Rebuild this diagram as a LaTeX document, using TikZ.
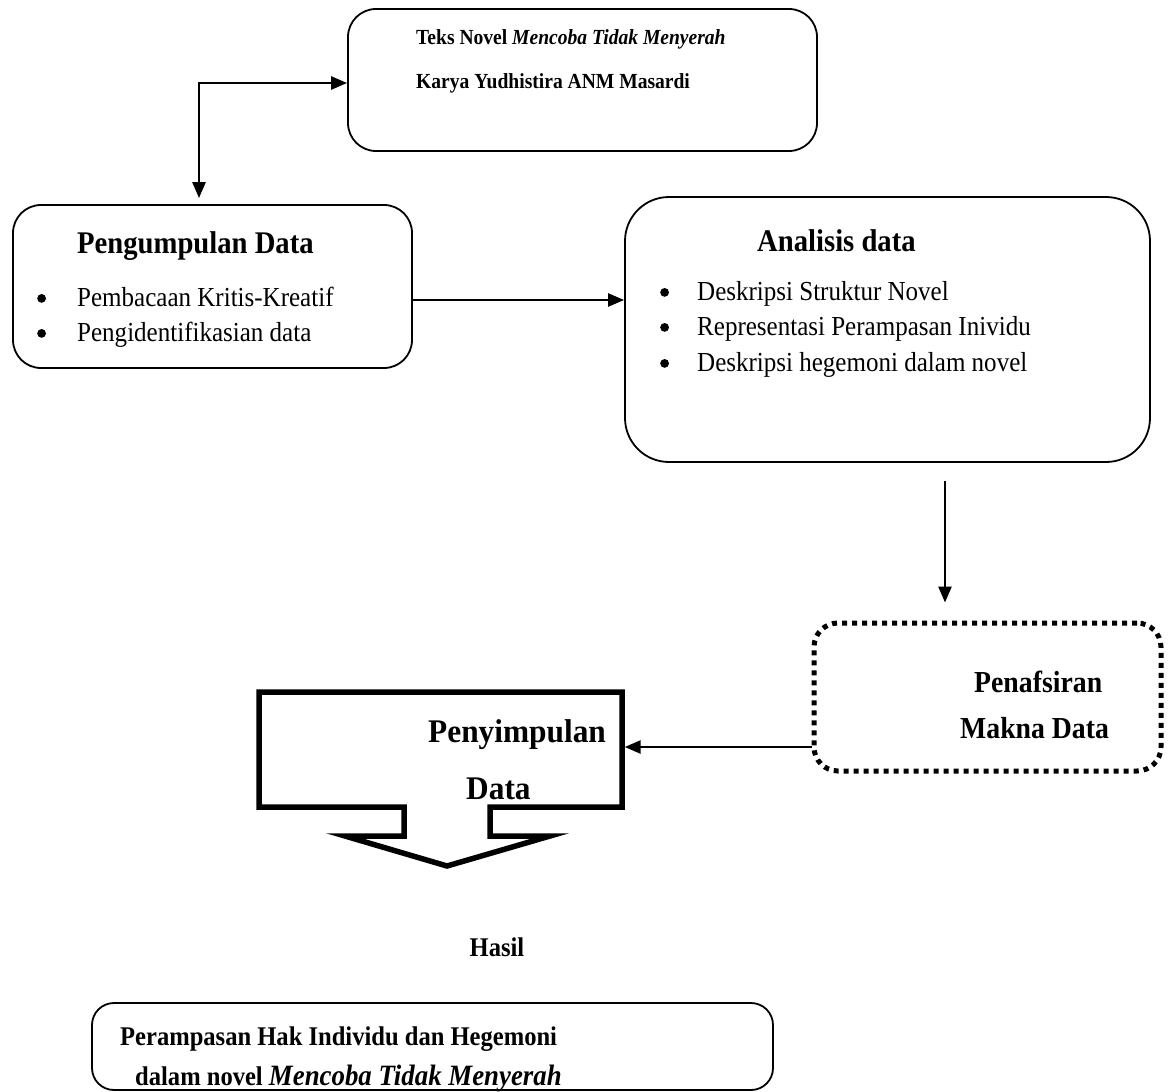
\documentclass[tikz,border=0pt]{standalone}
\usepackage{fontspec}
\setmainfont{Liberation Serif}[FakeStretch=0.91]
\newfontfamily\plainserif{Liberation Serif}[FakeStretch=0.95]
\usetikzlibrary{arrows.meta}
\newcommand\bulletdot{\tikz[baseline=0pt]\fill (4.6pt,7.6pt) circle[radius=4.4pt];}
\begin{document}
\begin{tikzpicture}[x=1pt,y=-1pt,
  rbox/.style={draw,line width=1.8pt,rounded corners=#1,inner sep=0pt},
  arr/.style={line width=2.6pt,-{Triangle[length=16pt,width=13pt]}},
  dbl/.style={line width=2.6pt,{Triangle[length=16pt,width=13pt]}-{Triangle[length=16pt,width=13pt]}},
  lbl/.style={anchor=base west,inner sep=0pt},
  fsmall/.style={font=\fontsize{21.5}{25}\selectfont\bfseries},
  fbody/.style={font=\fontsize{27.5}{32}\selectfont},
  ftitle/.style={font=\fontsize{31.5}{36}\selectfont\bfseries},
  fpen/.style={font=\fontsize{30.5}{36}\selectfont\bfseries},
  fbig/.style={font=\plainserif\fontsize{33}{38}\selectfont\bfseries},
  fres/.style={font=\fontsize{27}{31}\selectfont\bfseries}]
\useasboundingbox (0,0) rectangle (1168,1092);

% boxes
\node[rbox=28pt,minimum width=469pt,minimum height=142pt] (teks) at (582.5,80) {};
\node[rbox=28pt,minimum width=399pt,minimum height=163pt] (peng) at (212.5,286.5) {};
\node[rbox=44pt,minimum width=525pt,minimum height=265pt] (anal) at (887.5,329.5) {};
\node[draw,line width=5pt,dash pattern=on 5pt off 5pt,rounded corners=24pt,inner sep=0pt,
      minimum width=347pt,minimum height=148pt] (pen) at (987.5,697) {};
\node[rbox=22pt,minimum width=681pt,minimum height=87pt] (hasilbox) at (432.5,1046.5) {};

% block arrow Penyimpulan
\node[inner sep=0pt,outer sep=2.7pt,minimum width=363pt,minimum height=115pt] (simp) at (440.5,749.5) {};
\draw[line width=5.5pt,line join=miter]
  (259,692) -- (622,692) -- (622,807) -- (490,807) -- (490,836) -- (550,836)
  -- (447,866) -- (345,836) -- (404,836) -- (404,807) -- (259,807) -- cycle;

% texts
\node[lbl,fsmall] (t1) at (416,45) {Teks Novel \textit{Mencoba Tidak Menyerah}};
\node[lbl,fsmall] (t2) at (416,88) {Karya Yudhistira ANM Masardi};

\node[lbl,ftitle] (pt) at (77,253) {Pengumpulan Data};
\node[lbl,fbody] (p1) at (37,306) {\makebox[40pt][l]{\bulletdot}Pembacaan Kritis-Kreatif};
\node[lbl,fbody] (p2) at (37,341) {\makebox[40pt][l]{\bulletdot}Pengidentifikasian data};

\node[lbl,ftitle] (at) at (757,251) {Analisis data};
\node[lbl,fbody] (a1) at (660,300) {\makebox[37pt][l]{\bulletdot}Deskripsi Struktur Novel};
\node[lbl,fbody] (a2) at (660,335) {\makebox[37pt][l]{\bulletdot}Representasi Perampasan Inividu};
\node[lbl,fbody] (a3) at (660,371) {\makebox[37pt][l]{\bulletdot}Deskripsi hegemoni dalam novel};

\node[lbl,fpen] (pn1) at (974,692) {Penafsiran};
\node[lbl,fpen] (pn2) at (960,738) {Makna Data};

\node[lbl,fbig] (s1) at (428,742) {Penyimpulan};
\node[lbl,fbig] (s2) at (466,799) {Data};

\node[anchor=base,inner sep=0pt,fres] (hasil) at (497,956) {Hasil};

\node[lbl,fres] (h1) at (120,1045) {Perampasan Hak Individu dan Hegemoni};
\node[lbl,fres] (h2) at (135,1085) {dalam novel {\fontsize{29.5}{34}\selectfont\itshape Mencoba Tidak Menyerah}};

% connectors
\coordinate (bend) at (199,83);
\coordinate (downx) at (945,0);
\coordinate (yarr) at (0,747);
\draw[dbl] (teks.west |- bend) -- (bend) -- ([yshift=6pt]bend |- peng.north);
\draw[arr] ([yshift=-13.5pt]peng.east) -- ([yshift=-13.5pt]peng.east -| anal.west);
\draw[arr] ([yshift=-18pt]anal.south -| downx) -- ([yshift=18pt]pen.north -| downx);
\draw[arr] (pen.west |- yarr) -- (simp.east |- yarr);
\end{tikzpicture}
\end{document}
